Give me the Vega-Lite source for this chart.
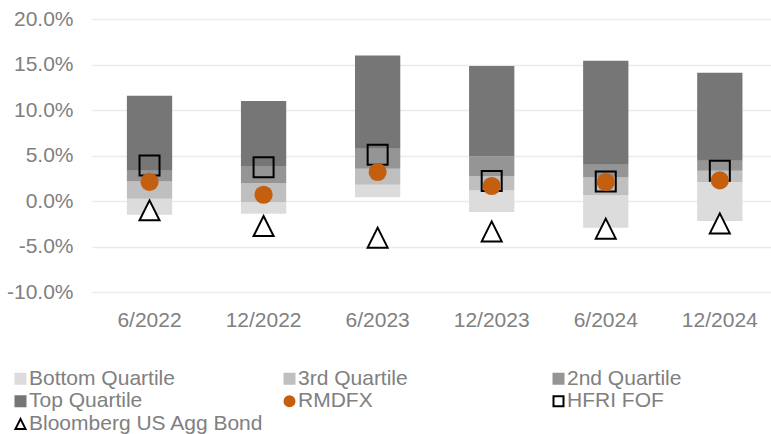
{
  "$schema": "https://vega.github.io/schema/vega-lite/v6.json",
  "width": 679,
  "height": 273,
  "autosize": "none",
  "padding": {"left": 92, "top": 19, "right": 0, "bottom": 142},
  "background": "white",
  "config": {
    "view": {"stroke": null},
    "font": "Liberation Sans",
    "axis": {"labelFont": "Liberation Sans", "labelFontSize": 21, "labelColor": "#808080", "domain": false, "ticks": false, "title": null},
    "legend": {"labelFont": "Liberation Sans", "labelFontSize": 21, "labelColor": "#808080", "labelLimit": 400, "symbolSize": 100, "symbolStrokeWidth": 2, "labelOffset": -2, "rowPadding": 0.7, "columnPadding": 15, "gridAlign": "all", "padding": 0}
  },
  "datasets": {
    "quartiles": [
      {"date": "6/2022", "series": "Bottom Quartile", "low": -0.0151, "high": 0.0025},
      {"date": "6/2022", "series": "3rd Quartile", "low": 0.0025, "high": 0.0215},
      {"date": "6/2022", "series": "2nd Quartile", "low": 0.0215, "high": 0.0333},
      {"date": "6/2022", "series": "Top Quartile", "low": 0.0333, "high": 0.1157},
      {"date": "12/2022", "series": "Bottom Quartile", "low": -0.014, "high": -0.0015},
      {"date": "12/2022", "series": "3rd Quartile", "low": -0.0015, "high": 0.0198},
      {"date": "12/2022", "series": "2nd Quartile", "low": 0.0198, "high": 0.0385},
      {"date": "12/2022", "series": "Top Quartile", "low": 0.0385, "high": 0.1099},
      {"date": "6/2023", "series": "Bottom Quartile", "low": 0.004, "high": 0.0179},
      {"date": "6/2023", "series": "3rd Quartile", "low": 0.0179, "high": 0.0355},
      {"date": "6/2023", "series": "2nd Quartile", "low": 0.0355, "high": 0.0575},
      {"date": "6/2023", "series": "Top Quartile", "low": 0.0575, "high": 0.16},
      {"date": "12/2023", "series": "Bottom Quartile", "low": -0.0121, "high": 0.0116},
      {"date": "12/2023", "series": "3rd Quartile", "low": 0.0116, "high": 0.0275},
      {"date": "12/2023", "series": "2nd Quartile", "low": 0.0275, "high": 0.049},
      {"date": "12/2023", "series": "Top Quartile", "low": 0.049, "high": 0.1484},
      {"date": "6/2024", "series": "Bottom Quartile", "low": -0.0293, "high": 0.0062},
      {"date": "6/2024", "series": "3rd Quartile", "low": 0.0062, "high": 0.0259},
      {"date": "6/2024", "series": "2nd Quartile", "low": 0.0259, "high": 0.0399},
      {"date": "6/2024", "series": "Top Quartile", "low": 0.0399, "high": 0.1542},
      {"date": "12/2024", "series": "Bottom Quartile", "low": -0.022, "high": 0.0209},
      {"date": "12/2024", "series": "3rd Quartile", "low": 0.0209, "high": 0.0333},
      {"date": "12/2024", "series": "2nd Quartile", "low": 0.0333, "high": 0.0443},
      {"date": "12/2024", "series": "Top Quartile", "low": 0.0443, "high": 0.141}
    ],
    "points": [
      {"date": "6/2022", "series": "RMDFX", "value": 0.021},
      {"date": "12/2022", "series": "RMDFX", "value": 0.0069},
      {"date": "6/2023", "series": "RMDFX", "value": 0.0319},
      {"date": "12/2023", "series": "RMDFX", "value": 0.0165},
      {"date": "6/2024", "series": "RMDFX", "value": 0.0209},
      {"date": "12/2024", "series": "RMDFX", "value": 0.0226},
      {"date": "6/2022", "series": "HFRI FOF", "value": 0.039},
      {"date": "12/2022", "series": "HFRI FOF", "value": 0.037},
      {"date": "6/2023", "series": "HFRI FOF", "value": 0.0509},
      {"date": "12/2023", "series": "HFRI FOF", "value": 0.022},
      {"date": "6/2024", "series": "HFRI FOF", "value": 0.0215},
      {"date": "12/2024", "series": "HFRI FOF", "value": 0.0333},
      {"date": "6/2022", "series": "Bloomberg US Agg Bond", "value": -0.0103},
      {"date": "12/2022", "series": "Bloomberg US Agg Bond", "value": -0.0275},
      {"date": "6/2023", "series": "Bloomberg US Agg Bond", "value": -0.0403},
      {"date": "12/2023", "series": "Bloomberg US Agg Bond", "value": -0.0334},
      {"date": "6/2024", "series": "Bloomberg US Agg Bond", "value": -0.0304},
      {"date": "12/2024", "series": "Bloomberg US Agg Bond", "value": -0.0246}
    ]
  },
  "encoding": {
    "x": {
      "field": "date", "type": "nominal", "sort": ["6/2022", "12/2022", "6/2023", "12/2023", "6/2024", "12/2024"],
      "scale": {"paddingInner": 0.603, "paddingOuter": 0.278, "align": 0.55},
      "axis": {"labelAngle": 0, "labelPadding": 17, "grid": false}
    }
  },
  "layer": [
    {
      "data": {"name": "quartiles"},
      "mark": {"type": "bar"},
      "encoding": {
        "y": {"field": "low", "type": "quantitative",
          "scale": {"domain": [-0.1, 0.2], "nice": false, "zero": false},
          "axis": {"values": [-0.1, -0.05, 0, 0.05, 0.1, 0.15, 0.2], "labelExpr": "replace(format(datum.value, '.1%'), '\u2212', '-')", "labelPadding": 19, "grid": true, "gridColor": "#ebebeb", "gridWidth": 1.5}},
        "y2": {"field": "high"},
        "fill": {"field": "series", "type": "nominal",
          "scale": {"domain": ["Bottom Quartile", "3rd Quartile", "2nd Quartile", "Top Quartile", "RMDFX", "HFRI FOF", "Bloomberg US Agg Bond"],
                    "range": ["#dcdcdc", "#bfbfbf", "#959595", "#767676", "#c55f10", "transparent", "white"]},
          "legend": {"title": null, "orient": "none", "legendX": -82, "legendY": 349, "columns": 3, "direction": "horizontal"}}
      }
    },
    {
      "data": {"name": "points"},
      "transform": [{"filter": "datum.series === 'HFRI FOF'"}],
      "mark": {"type": "point", "size": 400, "strokeWidth": 2, "opacity": 1},
      "encoding": {
        "y": {"field": "value", "type": "quantitative"},
        "fill": {"field": "series", "type": "nominal"},
        "stroke": {"field": "series", "type": "nominal",
          "scale": {"domain": ["Bottom Quartile", "3rd Quartile", "2nd Quartile", "Top Quartile", "RMDFX", "HFRI FOF", "Bloomberg US Agg Bond"],
                    "range": ["#dcdcdc", "#bfbfbf", "#959595", "#767676", "#c55f10", "black", "black"]}},
        "shape": {"field": "series", "type": "nominal",
          "scale": {"domain": ["Bottom Quartile", "3rd Quartile", "2nd Quartile", "Top Quartile", "RMDFX", "HFRI FOF", "Bloomberg US Agg Bond"],
                    "range": ["square", "square", "square", "square", "circle", "square", "M-1,1L1,1L0,-1Z"]}}
      }
    },
    {
      "data": {"name": "points"},
      "transform": [{"filter": "datum.series === 'RMDFX'"}],
      "mark": {"type": "point", "size": 330, "strokeWidth": 0, "opacity": 1},
      "encoding": {
        "y": {"field": "value", "type": "quantitative"},
        "fill": {"field": "series", "type": "nominal"},
        "stroke": {"field": "series", "type": "nominal"},
        "shape": {"field": "series", "type": "nominal"}
      }
    },
    {
      "data": {"name": "points"},
      "transform": [{"filter": "datum.series === 'Bloomberg US Agg Bond'"}],
      "mark": {"type": "point", "size": 400, "strokeWidth": 2, "opacity": 1},
      "encoding": {
        "y": {"field": "value", "type": "quantitative"},
        "fill": {"field": "series", "type": "nominal"},
        "stroke": {"field": "series", "type": "nominal"},
        "shape": {"field": "series", "type": "nominal"}
      }
    }
  ]
}
